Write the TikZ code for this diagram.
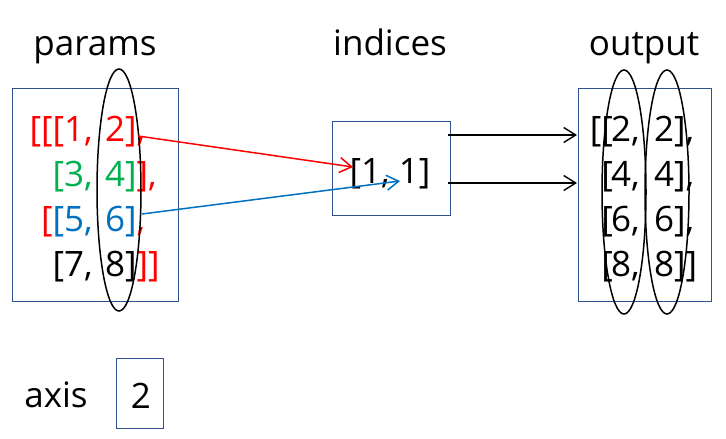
\documentclass[tikz,border=0pt]{standalone}
\usepackage{fontspec}
\setmainfont{Open Sans}
\usetikzlibrary{arrows.meta}
\definecolor{pred}{RGB}{255,0,0}
\definecolor{pgreen}{RGB}{0,176,80}
\definecolor{pblue}{RGB}{0,112,192}
\definecolor{boxblue}{RGB}{47,82,143}
\begin{document}
\begin{tikzpicture}[x=1pt,y=-1pt,
  box/.style={draw=boxblue, line width=0.9pt, inner sep=0pt, anchor=north west},
  txt/.style={inner sep=0pt, font=\fontsize{35}{42}\selectfont},
  lbl/.style={txt, anchor=base},
  lft/.style={txt, anchor=base east},
  rgt/.style={txt, anchor=base west},
  oval/.style={draw, line width=1.5pt},
  arr/.style={-{Straight Barb[length=12pt,width=15pt]}, line width=1.4pt}]
\useasboundingbox (0,0) rectangle (726,439);

% labels
\node[lbl] (lparams) at (95,55) {params};
\node[lbl] (lindices) at (390,55) {indices};
\node[lbl] (loutput) at (644,55) {output};
\node[lbl] (laxis) at (56,407) {axis};

% boxes
\node[box, minimum width=166pt, minimum height=213pt] (pbox) at (12,88) {};
\node[box, minimum width=118pt, minimum height=94pt] (ibox) at (332,121) {};
\node[box, minimum width=133pt, minimum height=213pt] (obox) at (578,88) {};
\node[box, minimum width=47pt, minimum height=70pt] (abox) at (116,358) {};
\node[lbl] (aval) at (141,408) {2};

% params rows
\node[lft] (p1l) at (93,141) {\textcolor{pred}{[[[1,}};
\node[rgt] (p1r) at (105,141) {\textcolor{pred}{2],}};
\node[lft] (p2l) at (93,186) {\textcolor{pgreen}{[3,}};
\node[rgt] (p2r) at (105,186) {\textcolor{pgreen}{4]}\textcolor{pred}{],}};
\node[lft] (p3l) at (93,231) {\textcolor{pred}{[}\textcolor{pblue}{[5,}};
\node[rgt] (p3r) at (105,231) {\textcolor{pblue}{6]}\textcolor{pred}{,}};
\node[lft] (p4l) at (93,276) {[7,};
\node[rgt] (p4r) at (105,276) {8]\textcolor{pred}{]]}};

% indices
\node[lbl] (ival) at (390,183) {[1, 1]};

% output rows
\node[lft] (o1l) at (613,141) {[[};
\node[rgt] (o1a) at (611,141) {2,};
\node[rgt] (o1b) at (654,141) {2],};
\node[lft] (o2l) at (613,186) {[};
\node[rgt] (o2a) at (611,186) {4,};
\node[rgt] (o2b) at (654,186) {4],};
\node[lft] (o3l) at (613,231) {[};
\node[rgt] (o3a) at (611,231) {6,};
\node[rgt] (o3b) at (654,231) {6],};
\node[lft] (o4l) at (613,276) {[};
\node[rgt] (o4a) at (611,276) {8,};
\node[rgt] (o4b) at (654,276) {8]]};

% ellipses
\draw[oval] (119,190) ellipse [x radius=22, y radius=121];
\draw[oval] (624,192) ellipse [x radius=22, y radius=122];
\draw[oval] (667,192) ellipse [x radius=22, y radius=122];

% connectors
\coordinate (rs) at (138,136);
\coordinate (re) at (353,167);
\coordinate (bs) at (142,214);
\coordinate (be) at (400,181);
\coordinate (k1s) at (448,135);
\coordinate (k1e) at (577,135);
\coordinate (k2s) at (448,183);
\coordinate (k2e) at (577,183);
\draw[arr, pred, line width=1.5pt] (rs) -- (re);
\draw[arr, pblue, line width=1.5pt] (bs) -- (be);
\draw[arr] (k1s) -- (k1e);
\draw[arr] (k2s) -- (k2e);
\end{tikzpicture}
\end{document}
